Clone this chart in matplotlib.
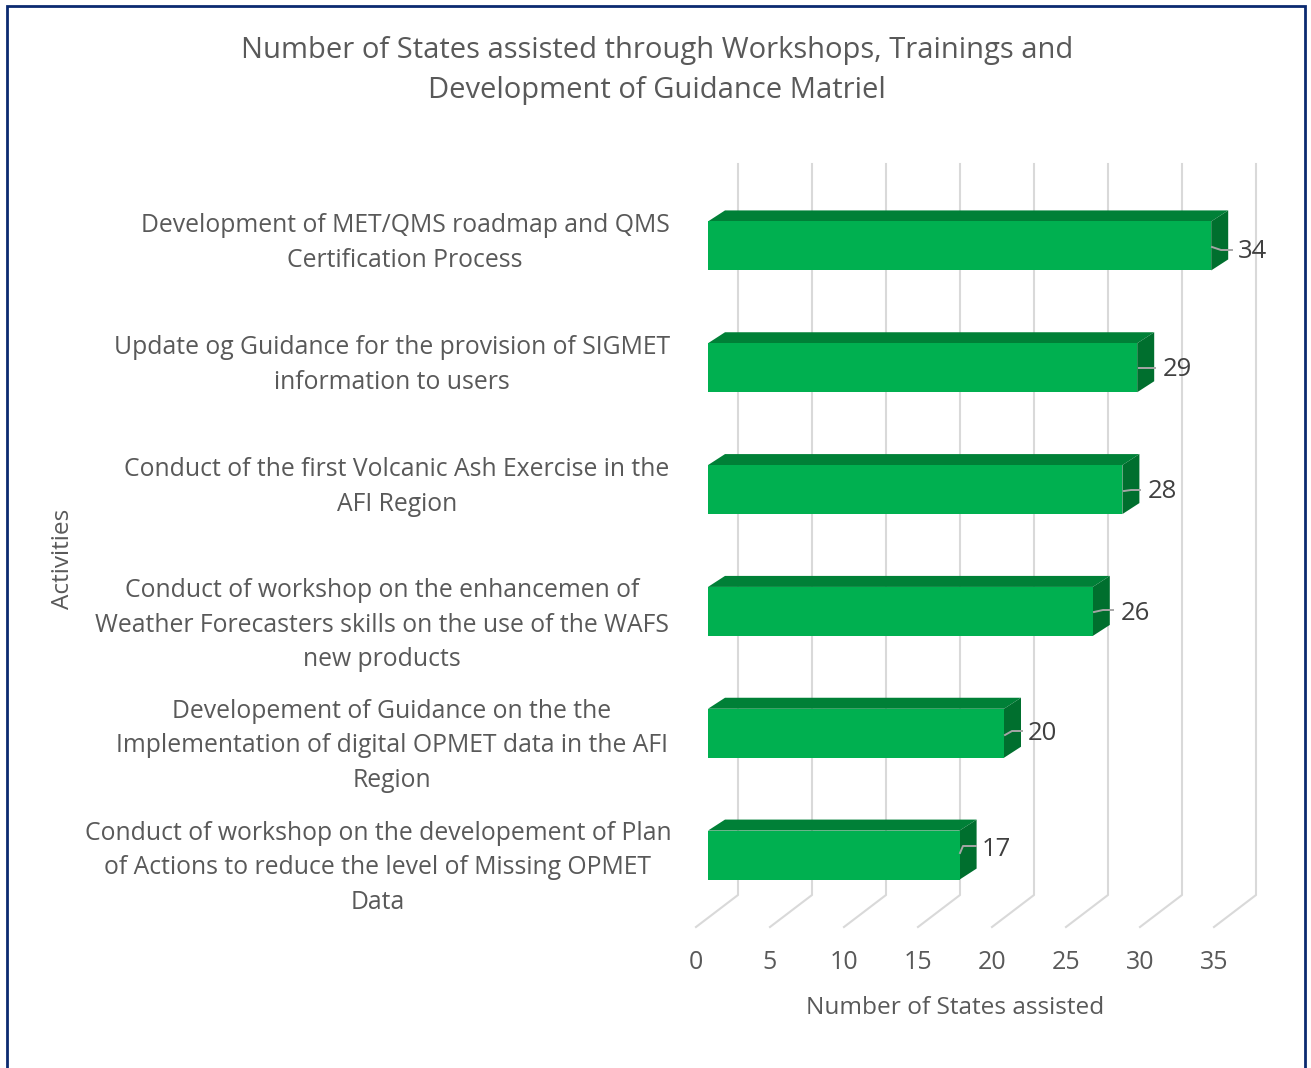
import matplotlib
matplotlib.use('Agg')
import matplotlib.pyplot as plt
from matplotlib.lines import Line2D

W, H = 1311, 1068
plt.rcParams['font.family'] = ['Open Sans', 'DejaVu Sans']

activities = [
    'Conduct of workshop on the developement of Plan\nof Actions to reduce the level of Missing OPMET\nData',
    'Developement of Guidance on the the\nImplementation of digital OPMET data in the AFI\nRegion',
    'Conduct of workshop on the enhancemen of\nWeather Forecasters skills on the use of the WAFS\nnew products',
    'Conduct of the first Volcanic Ash Exercise in the\nAFI Region',
    'Update og Guidance for the provision of SIGMET\ninformation to users',
    'Development of MET/QMS roadmap and QMS\nCertification Process',
]
states = [17, 20, 26, 28, 29, 34]
xticks = [0, 5, 10, 15, 20, 25, 30, 35]

# label placement, pixels
label_centers = [(378, 868), (392, 746), (382, 625), (397, 487), (392, 365), (405, 243)]
value_pos = [(996, 850), (1042, 734), (1135, 614), (1162, 492), (1177, 370), (1252, 252)]
leaders = [
    [(960, 853), (963, 846), (976, 846)],
    [(1005, 735), (1012, 731), (1022, 731)],
    [(1094, 612), (1103, 610), (1113, 610)],
    [(1124, 491), (1131, 490), (1140, 490)],
    [(1139, 368), (1146, 368), (1155, 368)],
    [(1212, 247), (1221, 250), (1232, 250)],
]

TEXT = '#595959'
GRID = '#D9D9D9'
FRONT = '#00B050'
TOP = '#008037'
SIDE = '#006F2E'
NAVY = '#0B2A70'

# plot box in pixels
left, right, top, bottom = 696, 1214, 196, 927
px_x = (right - left) / 35
px_y = (bottom - top) / 6


def dx(p):
    return p / px_x


def dy(p):
    return p / px_y


def to_fig(x, y):
    return x / W, 1 - y / H


fig = plt.figure(figsize=(W / 100, H / 100), dpi=100, facecolor='white')
ax = fig.add_axes([left / W, 1 - bottom / H, (right - left) / W, (bottom - top) / H])
ax.set_xlim(0, 35)
ax.set_ylim(0, 6)
ax.patch.set_visible(False)
for s in ax.spines.values():
    s.set_visible(False)

# wall and floor gridlines
wall_x, wall_y = dx(42), dy(32)
for v in xticks:
    ax.plot([v, v + wall_x, v + wall_x], [0, wall_y, 6 + wall_y], color=GRID, lw=1.5,
            clip_on=False, zorder=1, solid_joinstyle='miter')

# 3d bars
off_x, off_y = dx(12), dy(11)
depth_x, depth_y = dx(17), dy(11)
bar_h = 49 / px_y
ys = [i + 0.5 + off_y for i in range(len(states))]
for y, v in zip(ys, states):
    x0, x1 = off_x, off_x + v
    y0, y1 = y - bar_h / 2, y + bar_h / 2
    ax.fill([x0, x1, x1 + depth_x, x0 + depth_x], [y1, y1, y1 + depth_y, y1 + depth_y],
            color=TOP, lw=0, zorder=3, clip_on=False)
    ax.fill([x1, x1 + depth_x, x1 + depth_x, x1], [y0, y0 + depth_y, y1 + depth_y, y1],
            color=SIDE, lw=0, zorder=3, clip_on=False)
ax.barh(ys, states, height=bar_h, left=off_x, color=FRONT, linewidth=0, zorder=3)

# value labels and their leader lines
for v, pos, pts in zip(states, value_pos, leaders):
    lx = [(p[0] - left) / px_x for p in pts]
    ly = [(bottom - p[1]) / px_y for p in pts]
    ax.plot(lx, ly, color='#A6A6A6', lw=1.4, zorder=4, clip_on=False)
    ax.text((pos[0] - left) / px_x, (bottom - pos[1]) / px_y, str(v), fontsize=18.5, color='#404040',
            ha='center', va='center', zorder=5, clip_on=False)

ax.set_yticks([])
ax.set_xticks(xticks)
ax.tick_params(axis='x', length=0, pad=16.5, labelsize=18, labelcolor=TEXT)
ax.set_xlabel('Number of States assisted', fontsize=17.6, color=TEXT, labelpad=15)

for txt, pos in zip(activities, label_centers):
    x, y = to_fig(*pos)
    fig.text(x, y, txt, fontsize=17.8, color=TEXT, ha='center', va='center', linespacing=1.48)

x, y = to_fig(63, 559)
fig.text(x, y, 'Activities', fontsize=17.6, color=TEXT, rotation=90, ha='center', va='center')

x, y = to_fig(657, 70.5)
fig.text(x, y, 'Number of States assisted through Workshops, Trainings and\nDevelopment of Guidance Matriel',
         fontsize=21, color=TEXT, ha='center', va='center', linespacing=1.53)

# outer frame, runs off the bottom of the picture
fx = [7 / W, 7 / W, 1305 / W, 1305 / W]
fy = [0, 1 - 6 / H, 1 - 6 / H, 0]
fig.add_artist(Line2D(fx, fy, color=NAVY, lw=2, solid_joinstyle='miter'))

fig.savefig('out.png', dpi=100)
